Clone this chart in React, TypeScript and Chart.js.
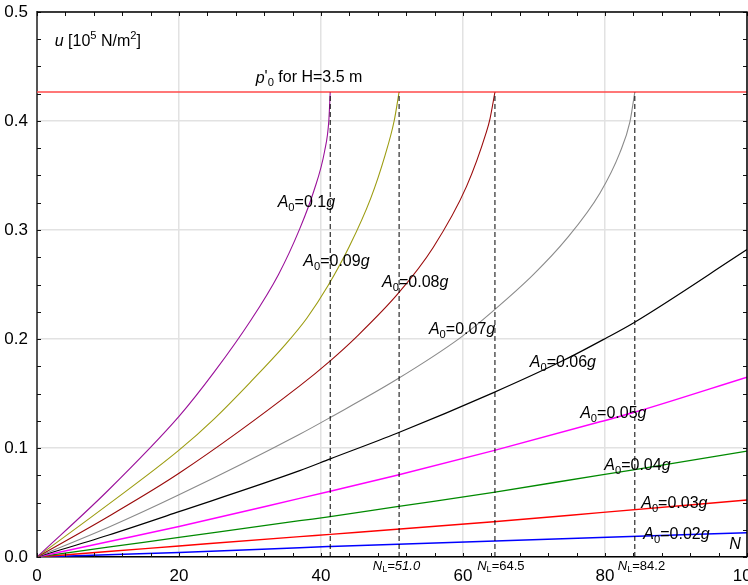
import React, { useEffect, useRef } from 'react';
import { Chart, registerables } from 'chart.js';

Chart.register(...registerables);

// ---- data ----
const pZero = 0.4266; // p'0 for H = 3.5 m
const nLimits = [41.3, 51.0, 64.5, 84.2];
const nLimitLabels = ['', '51.0', '64.5', '84.2'];
const nLimitItalic = [false, true, false, false];

const n10 = [0, 10, 20, 25, 30, 34, 37, 39, 40.5, 41.1, 41.3];
const u10 = [0, 0.061, 0.129, 0.17, 0.216, 0.259, 0.301, 0.336, 0.372, 0.4, 0.4266];

const n09 = [0, 10, 20, 25, 30, 35, 38, 41, 44, 47, 49, 50.3, 51.0];
const u09 = [0, 0.048, 0.098, 0.127, 0.16, 0.195, 0.219, 0.249, 0.285, 0.329, 0.368, 0.4, 0.4266];

const n08 = [0, 10, 20, 37, 41.3, 45, 50.9, 55.8, 60.5, 63.3, 63.8, 64.5];
const u08 = [0, 0.037, 0.0768, 0.157, 0.18, 0.202, 0.242, 0.284, 0.34, 0.39, 0.402, 0.4266];

const n07 = [0, 10, 20, 37, 41.3, 50.7, 59.6, 64.3, 69.9, 74.6, 79.3, 82.1, 83.5, 84.2];
const u07 = [0, 0.027, 0.057, 0.1126, 0.128, 0.163, 0.201, 0.226, 0.259, 0.292, 0.334, 0.371, 0.399, 0.4266];

const n06 = [0, 10, 20, 37, 41.3, 50.7, 64.3, 74.1, 80, 84, 100];
const u06 = [0, 0.02, 0.0416, 0.0792, 0.09, 0.1135, 0.1508, 0.1802, 0.2003, 0.2147, 0.282];

const n05 = [0, 10, 20, 37, 41.3, 50.7, 64.3, 79.3, 84, 100];
const u05 = [0, 0.014, 0.028, 0.0538, 0.0604, 0.075, 0.0976, 0.124, 0.1325, 0.165];

const n04 = [0, 10, 20, 37, 41.3, 50.7, 64.3, 79.3, 84, 100];
const u04 = [0, 0.009, 0.018, 0.0333, 0.037, 0.0462, 0.0593, 0.0752, 0.08, 0.0972];

const n03 = [0, 10, 20, 37, 41.3, 64.3, 79.3, 100];
const u03 = [0, 0.005, 0.0101, 0.0187, 0.0208, 0.0324, 0.0407, 0.0523];

const n02 = [0, 10, 20, 37, 41.3, 79.3, 100];
const u02 = [0, 0.002, 0.0042, 0.0086, 0.0096, 0.018, 0.0223];

const curveNames = ['0.1', '0.09', '0.08', '0.07', '0.06', '0.05', '0.04', '0.03', '0.02'];
const curveN = [n10, n09, n08, n07, n06, n05, n04, n03, n02];
const curveU = [u10, u09, u08, u07, u06, u05, u04, u03, u02];
const curveColors = ['#9a109a', '#9c9c10', '#9a0a0a', '#8a8a8a', '#000000', '#ff00ff', '#008a00', '#ff0000', '#0000ff'];
const curveWidths = [1.1, 1.1, 1.1, 1.1, 1.2, 1.5, 1.3, 1.4, 1.5];

// label anchors (left edge x in N, vertical centre in u)
const labelN = [33.9, 37.5, 48.6, 55.2, 69.4, 76.5, 79.9, 85.1, 85.4];
const labelU = [0.3248, 0.2706, 0.2514, 0.2083, 0.178, 0.1312, 0.0835, 0.0486, 0.0202];

const xTicks = [0, 20, 40, 60, 80, 100];
const yTicks = [0, 0.1, 0.2, 0.3, 0.4, 0.5];
const xMinorStep = 4;
const yMinorStep = 0.025;

const FONT = '"Liberation Sans", Arial, Helvetica, sans-serif';

type Seg = { t: string; i?: boolean; s?: 'sub' | 'sup' };

function drawRich(ctx: CanvasRenderingContext2D, segs: Seg[], x: number, y: number, size: number) {
  let cx = x;
  ctx.textBaseline = 'middle';
  ctx.textAlign = 'left';
  for (const sg of segs) {
    const fs = sg.s ? size * 0.7 : size;
    ctx.font = `${sg.i ? 'italic ' : ''}${fs}px ${FONT}`;
    const dy = sg.s === 'sub' ? size * 0.3 : sg.s === 'sup' ? -size * 0.35 : 0;
    ctx.fillText(sg.t, cx, y + dy);
    cx += ctx.measureText(sg.t).width;
  }
}

const framePlugin = {
  id: 'frame',
  afterDraw(chart: any) {
    const { ctx, chartArea: a, scales } = chart;
    ctx.save();
    ctx.strokeStyle = '#111';
    ctx.lineWidth = 1;
    ctx.beginPath();
    for (let v = 0; v <= 100.001; v += xMinorStep) {
      const px = Math.round(scales.x.getPixelForValue(v)) + 0.5;
      ctx.moveTo(px, a.bottom);
      ctx.lineTo(px, a.bottom - 4);
      ctx.moveTo(px, a.top);
      ctx.lineTo(px, a.top + 4);
    }
    for (let v = 0; v <= 0.5001; v += yMinorStep) {
      const py = Math.round(scales.y.getPixelForValue(v)) + 0.5;
      ctx.moveTo(a.left, py);
      ctx.lineTo(a.left + 4, py);
      ctx.moveTo(a.right, py);
      ctx.lineTo(a.right - 4, py);
    }
    ctx.stroke();
    ctx.strokeStyle = '#000';
    ctx.lineWidth = 1.5;
    ctx.beginPath();
    ctx.moveTo(a.left, a.top);
    ctx.lineTo(a.right, a.top);
    ctx.lineTo(a.right, a.bottom);
    ctx.stroke();
    ctx.restore();
  },
};

const labelPlugin = {
  id: 'labels',
  afterDatasetsDraw(chart: any) {
    const { ctx, scales, chartArea: a } = chart;
    const X = (v: number) => scales.x.getPixelForValue(v);
    const Y = (v: number) => scales.y.getPixelForValue(v);
    ctx.save();
    ctx.fillStyle = '#000';
    curveNames.forEach((nm, i) => {
      drawRich(ctx, [{ t: 'A', i: true }, { t: '0', s: 'sub' }, { t: '=' + nm }, { t: 'g', i: true }], X(labelN[i]), Y(labelU[i]), 16);
    });
    drawRich(ctx, [{ t: 'u', i: true }, { t: ' [10' }, { t: '5', s: 'sup' }, { t: ' N/m' }, { t: '2', s: 'sup' }, { t: ']' }], X(2.5), Y(0.4725), 16);
    drawRich(ctx, [{ t: 'p', i: true }, { t: "'" }, { t: '0', s: 'sub' }, { t: ' for H=3.5 m' }], X(30.8), Y(0.4394), 16);
    drawRich(ctx, [{ t: 'N', i: true }], X(97.5), Y(0.011), 16);
    const nlLeft = [0, 47.3, 62.0, 81.8];
    nLimits.forEach((_, i) => {
      if (!nLimitLabels[i]) return;
      drawRich(ctx, [{ t: 'N', i: true }, { t: 'L', s: 'sub' }, { t: '=' + nLimitLabels[i], i: nLimitItalic[i] }], X(nlLeft[i]), a.bottom + 9, 13);
    });
    ctx.restore();
  },
};

export default function App() {
  const ref = useRef<HTMLCanvasElement | null>(null);
  useEffect(() => {
    document.body.style.margin = '0';
    const canvas = ref.current!;
    const datasets: any[] = [];
    datasets.push({
      data: [{ x: 0, y: pZero }, { x: 100, y: pZero }],
      borderColor: '#ff4a4a',
      borderWidth: 1.5,
      pointRadius: 0,
    });
    nLimits.forEach((nl) => {
      datasets.push({
        data: [{ x: nl, y: 0 }, { x: nl, y: pZero }],
        borderColor: '#000',
        borderWidth: 1,
        borderDash: [5, 3],
        pointRadius: 0,
      });
    });
    curveN.forEach((ns, k) => {
      datasets.push({
        data: ns.map((x, i) => ({ x, y: curveU[k][i] })),
        borderColor: curveColors[k],
        borderWidth: curveWidths[k],
        pointRadius: 0,
        cubicInterpolationMode: 'monotone',
      });
    });
    const chart = new Chart(canvas, {
      type: 'line',
      data: { datasets },
      plugins: [labelPlugin, framePlugin],
      options: {
        animation: false,
        responsive: false,
        devicePixelRatio: 1,
        layout: { padding: { top: 12, right: 1, left: 0, bottom: 0 } },
        plugins: { legend: { display: false }, tooltip: { enabled: false } },
        scales: {
          x: {
            type: 'linear',
            min: 0,
            max: 100,
            afterBuildTicks: (s: any) => { s.ticks = xTicks.map((v) => ({ value: v })); },
            afterFit: (s: any) => { s.height = 28; s.paddingLeft = 0; s.paddingRight = 0; },
            ticks: { color: '#000', font: { size: 17, family: FONT }, padding: 9, maxRotation: 0, autoSkip: false },
            grid: { color: '#e2e2e2', lineWidth: 1.5, drawTicks: false },
            border: { display: true, color: '#000', width: 1.5 },
          },
          y: {
            type: 'linear',
            min: 0,
            max: 0.5,
            afterBuildTicks: (s: any) => { s.ticks = yTicks.map((v) => ({ value: v })); },
            afterFit: (s: any) => { s.width = 37; s.paddingTop = 0; s.paddingBottom = 0; },
            ticks: { color: '#000', font: { size: 17, family: FONT }, padding: 9, callback: (v: any) => Number(v).toFixed(1) },
            grid: { color: '#e2e2e2', lineWidth: 1.5, drawTicks: false },
            border: { display: true, color: '#555', width: 2 },
          },
        },
      } as any,
    });
    return () => chart.destroy();
  }, []);
  return (
    <div style={{ width: 748, height: 585, background: '#fff' }}>
      <canvas ref={ref} width={748} height={585} />
    </div>
  );
}
